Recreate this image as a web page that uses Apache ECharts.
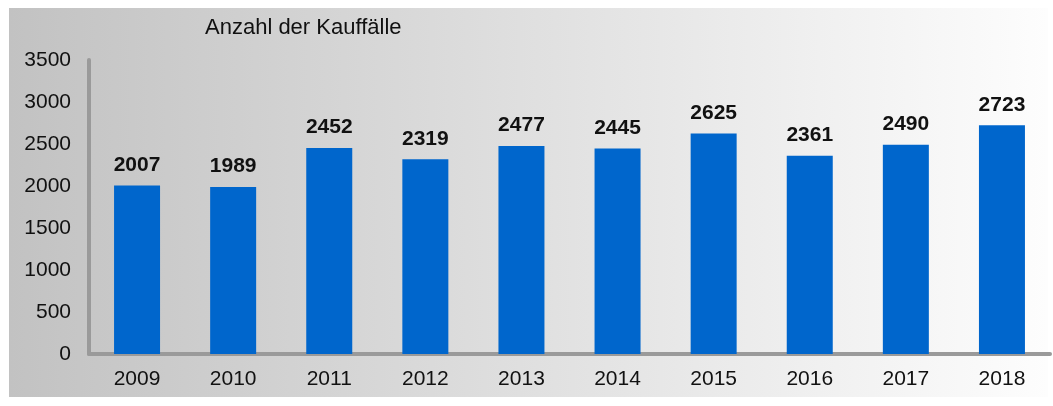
<!DOCTYPE html>
<html>
<head>
<meta charset="utf-8">
<script src="https://cdn.jsdelivr.net/npm/echarts@6/dist/echarts.min.js"></script>
<style>
  html, body { margin: 0; padding: 0; background: #fff; }
  #chart { width: 1053px; height: 406px; }
</style>
</head>
<body>
<div id="chart"></div>
<script>
// data
var years = ['2009', '2010', '2011', '2012', '2013', '2014', '2015', '2016', '2017', '2018'];
var kauffaelle = [2007, 1989, 2452, 2319, 2477, 2445, 2625, 2361, 2490, 2723];
var seriesName = 'Anzahl der Kauffälle';

var chart = echarts.init(document.getElementById('chart'));
chart.setOption({
  animation: false,
  textStyle: { fontFamily: 'Liberation Sans, Arial, sans-serif' },
  graphic: [
    {
      type: 'rect',
      z: -10,
      silent: true,
      shape: { x: 9, y: 8, width: 1039, height: 389 },
      style: {
        fill: new echarts.graphic.LinearGradient(0, 0, 1, 0, [
          { offset: 0, color: '#c2c2c2' },
          { offset: 1, color: '#fdfdfd' }
        ])
      }
    }
  ],
  title: {
    text: seriesName,
    left: 205,
    top: 17,
    padding: 0,
    textStyle: { fontSize: 22, fontWeight: 'normal', color: '#111' }
  },
  grid: { left: 89, right: 3, top: 60, bottom: 52 },
  xAxis: {
    type: 'category',
    data: years,
    axisLine: { lineStyle: { color: '#9a9a9a', width: 4 } },
    axisTick: { show: false },
    axisLabel: { fontSize: 21, color: '#111', margin: 15 }
  },
  yAxis: {
    type: 'value',
    min: 0,
    max: 3500,
    interval: 500,
    splitLine: { show: false },
    axisLine: { show: true, lineStyle: { color: '#9a9a9a', width: 4 } },
    axisTick: { show: false },
    axisLabel: {
      fontSize: 21,
      color: '#111',
      margin: 18,
      formatter: function (v) { return String(v); }
    }
  },
  series: [
    {
      name: seriesName,
      type: 'bar',
      data: kauffaelle,
      barWidth: 46,
      itemStyle: { color: '#0066cc' },
      label: {
        show: true,
        position: 'top',
        distance: 10,
        fontSize: 21,
        fontWeight: 'bold',
        color: '#111'
      }
    }
  ]
});
</script>
</body>
</html>
